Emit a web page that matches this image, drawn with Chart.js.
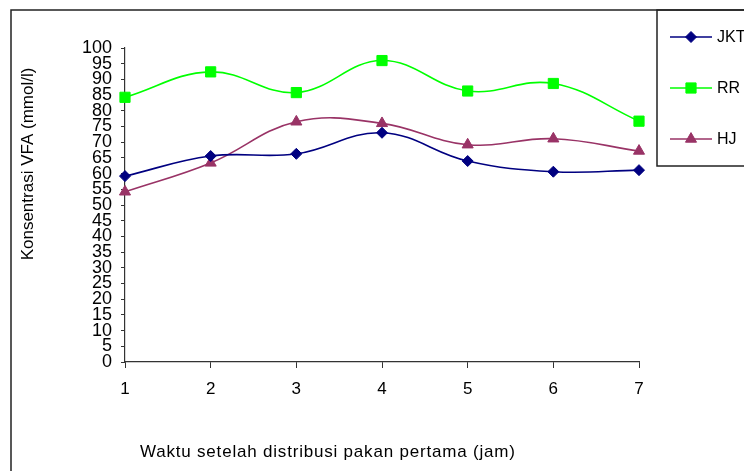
<!DOCTYPE html>
<html>
<head>
<meta charset="utf-8">
<script src="https://cdn.jsdelivr.net/npm/chart.js@4/dist/chart.umd.min.js"></script>
<style>
  html, body { margin: 0; padding: 0; background: #fff; }
  #wrap { width: 744px; height: 471px; position: relative; }
  canvas { display: block; }
</style>
</head>
<body>
<div id="wrap"><canvas id="c" width="744" height="471"></canvas></div>
<script>
// Hours after the first feed distribution
const hours = ['1', '2', '3', '4', '5', '6', '7'];
// VFA concentration (mmol/l) per ration
const jkt = [59.2, 65.6, 66.3, 73.0, 64.0, 60.6, 61.1];
const rr  = [84.3, 92.4, 85.8, 96.0, 86.3, 88.7, 76.7];
const hj  = [54.2, 63.4, 76.5, 76.0, 69.2, 71.1, 67.2];
const seriesNames = ['JKT', 'RR', 'HJ'];
const yTitle = 'Konsentrasi VFA (mmol/l)';
const xTitle = 'Waktu setelah distribusi pakan pertama (jam)';

const FONT = '"Liberation Sans", Arial, Helvetica, sans-serif';
const AXIS = '#333333';

const styles = [
  { color: '#000080', pointStyle: 'rectRot',  radius: 5.5 },
  { color: '#00FF00', pointStyle: 'rect',     radius: 7.2 },
  { color: '#993366', pointStyle: 'triangle', radius: 6.4 }
];

function makeDataset(label, data, s) {
  return {
    label, data,
    borderColor: s.color,
    backgroundColor: s.color,
    pointBackgroundColor: s.color,
    pointBorderColor: s.color,
    pointStyle: s.pointStyle,
    pointRadius: s.radius,
    pointHoverRadius: s.radius,
    pointBorderWidth: 1,
    borderWidth: 1.6,
    tension: 0.4,
    fill: false
  };
}

// Frame, legend box and axis titles
const decor = {
  id: 'decor',
  beforeDraw(chart) {
    const ctx = chart.ctx;
    ctx.save();
    ctx.fillStyle = '#fff';
    ctx.fillRect(0, 0, chart.width, chart.height);
    ctx.restore();
  },
  afterDraw(chart) {
    const ctx = chart.ctx;
    ctx.save();
    ctx.strokeStyle = '#222';
    ctx.lineWidth = 1.5;
    ctx.strokeRect(11, 10, 780, 520);
    ctx.strokeRect(657, 10, 140, 156);

    // legend entries
    const rows = [37, 88, 139];
    ctx.font = '16px ' + FONT;
    ctx.textBaseline = 'middle';
    ctx.textAlign = 'left';
    chart.data.datasets.forEach((ds, i) => {
      const y = rows[i];
      ctx.strokeStyle = ds.borderColor;
      ctx.lineWidth = 1.6;
      ctx.beginPath();
      ctx.moveTo(670, y);
      ctx.lineTo(712, y);
      ctx.stroke();
      ctx.fillStyle = ds.borderColor;
      ctx.strokeStyle = ds.borderColor;
      ctx.lineWidth = 1;
      Chart.helpers.drawPoint(ctx, { pointStyle: ds.pointStyle, radius: ds.pointRadius, rotation: 0, borderWidth: 1 }, 691, y);
      ctx.fillStyle = '#000';
      ctx.fillText(ds.label, 717, y + 1);
    });

    // axis titles
    ctx.fillStyle = '#000';
    ctx.font = '17px ' + FONT;
    ctx.textBaseline = 'middle';
    ctx.save();
    ctx.translate(28, 164);
    ctx.rotate(-Math.PI / 2);
    ctx.textAlign = 'center';
    ctx.fillText(yTitle, 0, 0);
    ctx.restore();

    ctx.textAlign = 'left';
    try { ctx.letterSpacing = '0.8px'; } catch (e) {}
    ctx.fillText(xTitle, 140, 452);
    ctx.restore();
  }
};

new Chart(document.getElementById('c'), {
  type: 'line',
  data: {
    labels: hours,
    datasets: [
      makeDataset(seriesNames[0], jkt, styles[0]),
      makeDataset(seriesNames[1], rr, styles[1]),
      makeDataset(seriesNames[2], hj, styles[2])
    ]
  },
  options: {
    responsive: false,
    animation: false,
    devicePixelRatio: 1,
    layout: { padding: { left: 12, top: 48, right: 105, bottom: 0 } },
    plugins: {
      legend: { display: false },
      tooltip: { enabled: false },
      title: { display: false }
    },
    scales: {
      x: {
        type: 'category',
        offset: false,
        grid: { display: true, drawOnChartArea: false, drawTicks: true, tickLength: 6, color: AXIS, lineWidth: 1 },
        border: { display: true, color: AXIS, width: 1.2 },
        ticks: { color: '#000', font: { family: FONT, size: 17 }, padding: 11, maxRotation: 0, autoSkip: false },
        afterFit(scale) { scale.height = 471 - 362; }
      },
      y: {
        min: 0,
        max: 100,
        grid: { display: true, drawOnChartArea: false, drawTicks: true, tickLength: 4, color: AXIS, lineWidth: 1 },
        border: { display: true, color: AXIS, width: 1.2 },
        ticks: { stepSize: 5, autoSkip: false, color: '#000', font: { family: FONT, size: 18 }, padding: 9 },
        afterFit(scale) { scale.width = 113; }
      }
    }
  },
  plugins: [decor]
});
</script>
</body>
</html>
